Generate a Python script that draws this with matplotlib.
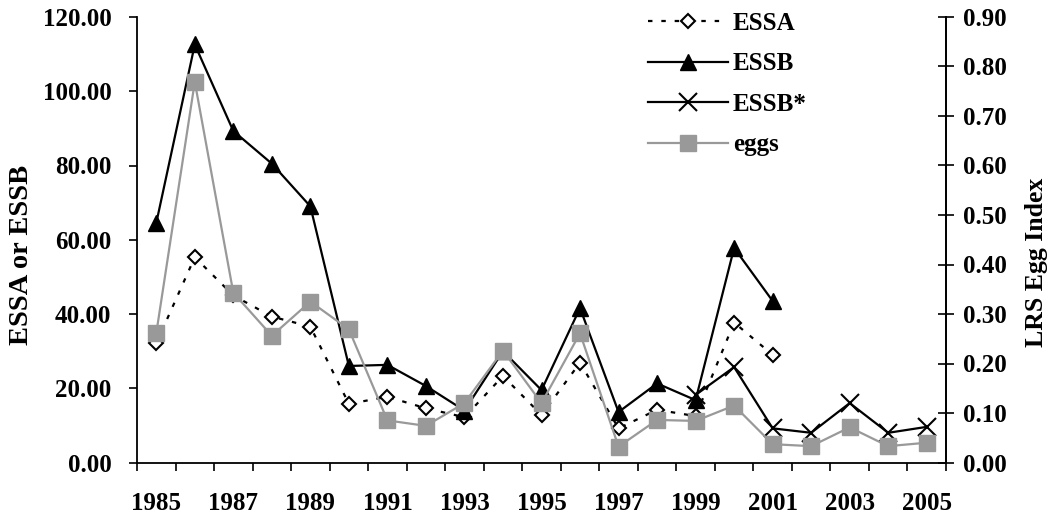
import matplotlib
matplotlib.use("Agg")
import matplotlib.pyplot as plt
import numpy as np

years = list(range(1985, 2006))
essa = [32.1, 55.3, 45.0, 39.3, 36.6, 15.8, 17.7, 14.6, 12.2, 23.3, 12.8, 26.9,
        9.2, 14.2, 12.5, 37.7, 29.0, None, None, None, None]
essb = [64.5, 112.6, 89.3, 80.5, 69.0, 26.0, 26.3, 20.6, 14.0, 30.0, 19.5, 41.6,
        13.6, 21.3, 16.8, 57.8, 43.5, None, None, None, None]
essb_star = [None] * 14 + [18.2, 25.7, 9.2, 8.0, 16.0, 8.0, 9.6]
eggs = [0.261, 0.769, 0.343, 0.256, 0.325, 0.269, 0.085, 0.074, 0.120, 0.226, 0.120,
        0.261, 0.032, 0.086, 0.084, 0.115, 0.037, 0.033, 0.071, 0.033, 0.040]
year_labels = [str(y) for y in years[::2]]

def arr(v):
    return np.array([np.nan if x is None else x for x in v], dtype=float)

plt.rcParams['font.family'] = ['Liberation Serif', 'DejaVu Serif']
plt.rcParams['font.weight'] = 'bold'
FS = 18

W, H = 1052, 513
fig = plt.figure(figsize=(W / 100, H / 100), dpi=100)
x0, x1, ytop, ybot = 137, 946, 17, 462.5
ax = fig.add_axes([x0 / W, 1 - ybot / H, (x1 - x0) / W, (ybot - ytop) / H])
ax2 = ax.twinx()

x = np.arange(len(years))
l1, = ax.plot(x, arr(essa), color='black', lw=1.6, ls=(0, (2, 4)), marker='D',
              ms=7, mfc='white', mec='black', mew=1.5, label='ESSA')
l2, = ax.plot(x, arr(essb), color='black', lw=1.6, marker='^', ms=11,
              mfc='black', mec='black', label='ESSB')
l3, = ax.plot(x, arr(essb_star), color='black', lw=1.6, marker='x', ms=13,
              mew=1.5, label='ESSB*')
l4, = ax2.plot(x, eggs, color='#999999', lw=1.6, marker='s', ms=12,
               mfc='#999999', mec='#999999', label='eggs')

ax.set_xlim(-0.5, len(years) - 0.5)
ax.set_ylim(0, 120)
ax2.set_ylim(0, 0.9)
ax.set_yticks(np.arange(0, 121, 20))
ax.set_yticklabels([f"{v:.2f}" for v in np.arange(0, 121, 20)])
ax2.set_yticks(np.arange(0, 0.91, 0.1))
ax2.set_yticklabels([f"{v:.2f}" for v in np.arange(0, 0.91, 0.1)])

ax.set_xticks(x[::2])
ax.set_xticklabels(year_labels)
ax.set_xticks(np.arange(-0.5, len(years), 1), minor=True)
ax.tick_params(axis='x', which='major', length=0, pad=21, labelsize=FS)
ax.tick_params(axis='x', which='minor', length=5.5, width=1.2, direction='out')
ax.tick_params(axis='y', length=5.5, width=1.2, direction='out', pad=13, labelsize=FS)
ax2.tick_params(axis='y', length=11, width=1.2, direction='inout', pad=7, labelsize=FS)

for a in (ax, ax2):
    a.spines['top'].set_visible(False)
    for s in ('left', 'right', 'bottom'):
        a.spines[s].set_linewidth(1.3)
ax2.spines['left'].set_visible(False)
ax2.spines['bottom'].set_visible(False)
for lab in ax.get_xticklabels() + ax.get_yticklabels() + ax2.get_yticklabels():
    lab.set_fontweight('bold')

fig.text(22 / W, 1 - 255 / H, 'ESSA or ESSB', rotation=90, ha='center', va='center',
         fontsize=20.5, fontweight='bold')
fig.text(1036 / W, 1 - 262 / H, 'LRS Egg Index', rotation=90, ha='center', va='center',
         fontsize=18.5, fontweight='bold')

lx = (648 - x0) / (x1 - x0)
ly = (ybot - 12) / (ybot - ytop)
leg = ax2.legend(handles=[l1, l2, l3, l4], loc='upper left',
                 bbox_to_anchor=(lx, ly), frameon=False,
                 borderpad=0, borderaxespad=0,
                 handlelength=3.2, labelspacing=0.7, handletextpad=0.2,
                 prop={'weight': 'bold', 'size': FS})

fig.savefig('out.png', dpi=100)
